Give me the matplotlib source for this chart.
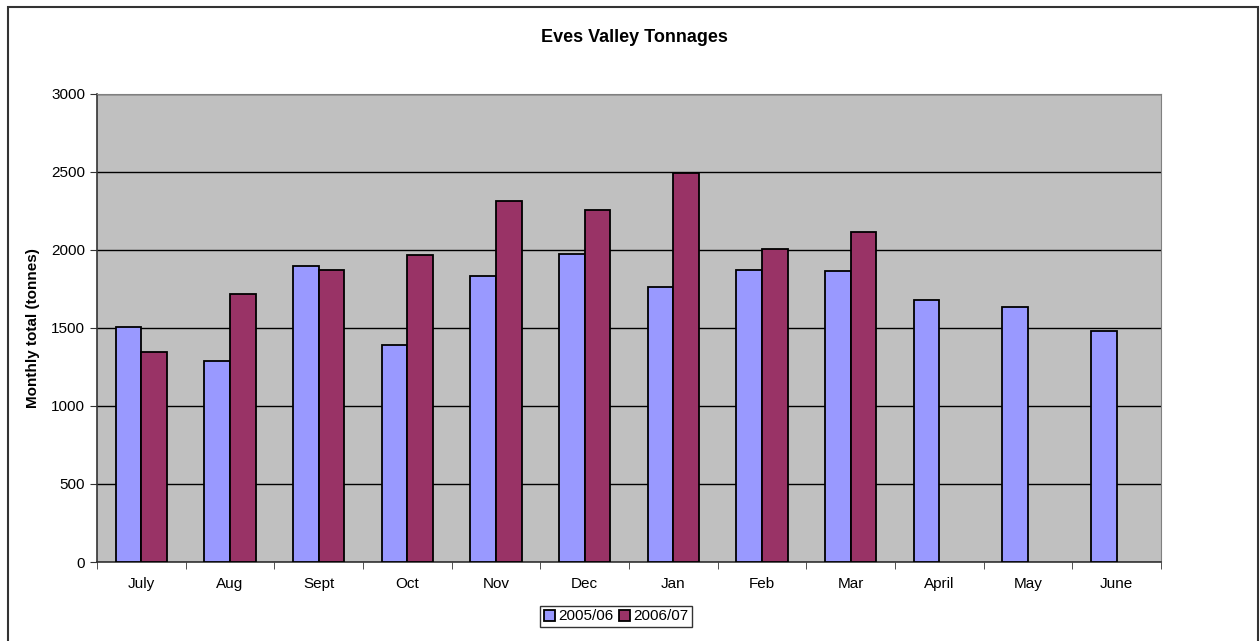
import matplotlib.pyplot as plt
import numpy as np
from matplotlib.patches import Rectangle

months = ['July', 'Aug', 'Sept', 'Oct', 'Nov', 'Dec', 'Jan', 'Feb', 'Mar',
          'April', 'May', 'June']
t_2005 = [1505, 1285, 1897, 1387, 1834, 1972, 1760, 1872, 1861, 1679, 1633, 1480]
t_2006 = [1342, 1716, 1868, 1966, 2310, 2254, 2491, 2006, 2114]

plt.rcParams['font.family'] = ['Liberation Sans', 'DejaVu Sans']

fig = plt.figure(figsize=(12.6, 6.41), dpi=100)
ax = fig.add_axes([97/1260, 79/641, 1064/1260, 468.5/641])

# Рамка вокруг всей диаграммы (низ уходит за край картинки).
fig.patches.append(Rectangle((8/1260, -0.1), 1250/1260, 1.1 - 7/641,
                             transform=fig.transFigure, fill=False,
                             edgecolor='#333333', linewidth=1.5))

w = 0.29
x = np.arange(len(months))
ax.set_facecolor('#C0C0C0')
ax.bar(x[:len(t_2005)] - w, t_2005, width=w, align='edge', color='#9999FF',
       edgecolor='black', linewidth=1.3, label='2005/06', zorder=3)
ax.bar(x[:len(t_2006)], t_2006, width=w, align='edge', color='#993366',
       edgecolor='black', linewidth=1.3, label='2006/07', zorder=3)

ax.set_xlim(-0.5, len(months) - 0.5)
ax.set_ylim(0, 3000)
ax.set_yticks(range(0, 3001, 500))
ax.yaxis.grid(True, color='black', linewidth=1)
ax.set_axisbelow(True)

ax.set_xticks(x)
ax.set_xticklabels(months, fontsize=11)
ax.set_xticks(np.arange(-0.5, len(months)), minor=True)
ax.tick_params(axis='x', which='major', length=0, pad=11)
ax.tick_params(axis='x', which='minor', length=5, direction='out', color='#333333')
ax.tick_params(axis='y', length=5, direction='out', labelsize=11, color='#333333')

for s in ['top', 'right']:
    ax.spines[s].set_color('#808080')
for s in ['left', 'bottom']:
    ax.spines[s].set_color('#333333')
    ax.spines[s].set_linewidth(1.2)

ax.set_ylabel('Monthly total (tonnes)', fontsize=11, fontweight='bold', labelpad=8)
fig.text(634/1260, 1 - 37/641, 'Eves Valley Tonnages', fontsize=13,
         fontweight='bold', ha='center', va='center')

leg = fig.legend(loc='center', bbox_to_anchor=(616/1260, 24.5/641), ncol=2,
                 fontsize=11, frameon=True, fancybox=False, handlelength=0.7,
                 handleheight=0.7, handletextpad=0.2, columnspacing=0.4,
                 borderpad=0.25)
leg.get_frame().set_edgecolor('black')
leg.get_frame().set_linewidth(1)

fig.savefig('out.png', dpi=100)
